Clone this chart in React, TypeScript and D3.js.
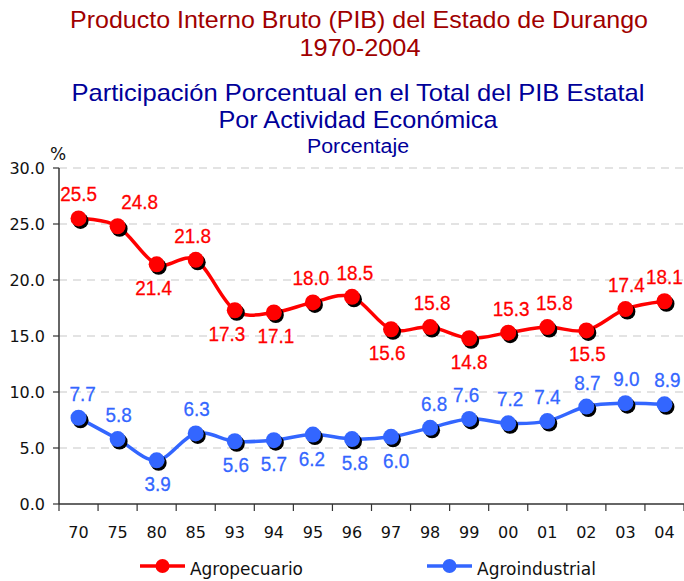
import React from "react";
import * as d3 from "d3";

const years = ["70", "75", "80", "85", "93", "94", "95", "96", "97", "98", "99", "00", "01", "02", "03", "04"];
const agropecuario = [25.5, 24.8, 21.4, 21.8, 17.3, 17.1, 18.0, 18.5, 15.6, 15.8, 14.8, 15.3, 15.8, 15.5, 17.4, 18.1];
const agroindustrial = [7.7, 5.8, 3.9, 6.3, 5.6, 5.7, 6.2, 5.8, 6.0, 6.8, 7.6, 7.2, 7.4, 8.7, 9.0, 8.9];
const yTicks = [0, 5, 10, 15, 20, 25, 30];
// label placement: 1 = above the point, -1 = below
const agropecuarioSide = [1, 1, -1, 1, -1, -1, 1, 1, -1, 1, -1, 1, 1, -1, 1, 1];
const agroindustrialSide = [1, 1, -1, 1, -1, -1, -1, -1, -1, 1, 1, 1, 1, 1, 1, 1];
const agropecuarioDx = [0, 22, -3, -3, -8, 2, -2, 3, -4, 2, 0, 3, 7, 1, 1, 0];
const agroindustrialDx = [4, 1, 1, 1, 1, 0, -1, 3, 5, 4, -3, 2, 0, 1, 1, 3];

const W = 684;
const H = 581;
const left = 59;
const right = 684;
const top = 168;
const bottom = 504;

const RED = "#FF0000";
const BLUE = "#3366FF";
const labelFont = "'Liberation Sans', Arial, sans-serif";
const axisFont = "'DejaVu Sans', Tahoma, sans-serif";
const titleFont = "'Liberation Sans', Arial, sans-serif";

export default function App() {
  const x = d3.scaleBand<string>().domain(years).range([left, right]).padding(0);
  const y = d3.scaleLinear().domain([0, 30]).range([bottom, top]);
  const cx = (i: number) => (x(years[i]) as number) + x.bandwidth() / 2;
  const line = d3
    .line<number>()
    .x((_, i) => cx(i))
    .y((d) => y(d))
    .curve(d3.curveCardinal.tension(0));

  const series = [
    { name: "Agropecuario", data: agropecuario, side: agropecuarioSide, dx: agropecuarioDx, color: RED },
    { name: "Agroindustrial", data: agroindustrial, side: agroindustrialSide, dx: agroindustrialDx, color: BLUE },
  ];

  const edges = years.map((yr) => x(yr) as number).concat([right]);

  return (
    <svg width={W} height={H} style={{ position: "absolute", left: 0, top: 0, background: "#fff" }}>
      <rect x={0} y={0} width={W} height={H} fill="#fff" />
      {/* titles */}
      <g fontFamily={titleFont} textAnchor="middle">
        <text x={359} y={28} fontSize={24} fill="#A00000" textLength={578} lengthAdjust="spacingAndGlyphs">
          Producto Interno Bruto (PIB) del Estado de Durango
        </text>
        <text x={360} y={56} fontSize={24} fill="#A00000" textLength={121} lengthAdjust="spacingAndGlyphs">1970-2004</text>
        <text x={358} y={101} fontSize={24} fill="#000099" textLength={573} lengthAdjust="spacingAndGlyphs">
          Participación Porcentual en el Total del PIB Estatal
        </text>
        <text x={358} y={128} fontSize={24} fill="#000099" textLength={279} lengthAdjust="spacingAndGlyphs">
          Por Actividad Económica
        </text>
        <text x={358} y={153} fontSize={20} fill="#000099" textLength={102} lengthAdjust="spacingAndGlyphs">
          Porcentaje
        </text>
      </g>
      <text x={58} y={160} fontFamily={axisFont} fontSize={17} fill="#111" textAnchor="middle">%</text>

      {/* gridlines */}
      {yTicks.filter((t) => t > 0).map((t) => (
        <line key={t} x1={left} x2={right} y1={y(t)} y2={y(t)} stroke="#C8C8C8" strokeWidth={1.2} strokeDasharray="8,6" />
      ))}

      {/* axes */}
      <line x1={left} x2={left} y1={top} y2={bottom} stroke="#333" strokeWidth={1.5} />
      <line x1={left} x2={right} y1={bottom} y2={bottom} stroke="#333" strokeWidth={1.5} />
      {yTicks.map((t) => (
        <g key={t}>
          <line x1={left - 6} x2={left} y1={y(t)} y2={y(t)} stroke="#333" strokeWidth={1.2} />
          <text x={45} y={y(t) + 6} fontFamily={axisFont} fontSize={16} fill="#111" textAnchor="end">
            {d3.format(".1f")(t)}
          </text>
        </g>
      ))}
      {edges.map((e, i) => (
        <line key={i} x1={e} x2={e} y1={bottom} y2={bottom + 7} stroke="#333" strokeWidth={1.2} />
      ))}
      {years.map((yr, i) => (
        <text key={yr} x={cx(i)} y={538} fontFamily={axisFont} fontSize={16} fill="#111" textAnchor="middle">
          {yr}
        </text>
      ))}

      {/* series */}
      {series.map((s) => (
        <g key={s.name}>
          <path d={line(s.data) as string} fill="none" stroke={s.color} strokeWidth={3.5} />
          {s.data.map((v, i) => (
            <g key={i}>
              <circle cx={cx(i) + 2} cy={y(v) + 2.5} r={8} fill="#000" />
              <circle cx={cx(i)} cy={y(v)} r={8} fill={s.color} />
            </g>
          ))}
          {s.data.map((v, i) => (
            <text
              key={"l" + i}
              transform={`translate(${cx(i) + s.dx[i]},${s.side[i] > 0 ? y(v) - 17 : y(v) + 31}) scale(0.9,1)`}
              fontFamily={labelFont}
              fontSize={21}
              fill={s.color}
              stroke={s.color}
              strokeWidth={0.3}
              textAnchor="middle"
            >
              {d3.format(".1f")(v)}
            </text>
          ))}
        </g>
      ))}

      {/* legend */}
      {[
        { name: "Agropecuario", color: RED, x0: 140, w: 113 },
        { name: "Agroindustrial", color: BLUE, x0: 427, w: 119 },
      ].map((l) => (
        <g key={l.name}>
          <line x1={l.x0} x2={l.x0 + 45} y1={566} y2={566} stroke={l.color} strokeWidth={3.5} />
          <circle cx={l.x0 + 22.5} cy={566} r={7} fill={l.color} />
          <text x={l.x0 + 50} y={575} fontFamily={axisFont} fontSize={18} fill="#111" textLength={l.w} lengthAdjust="spacingAndGlyphs">
            {l.name}
          </text>
        </g>
      ))}
    </svg>
  );
}
